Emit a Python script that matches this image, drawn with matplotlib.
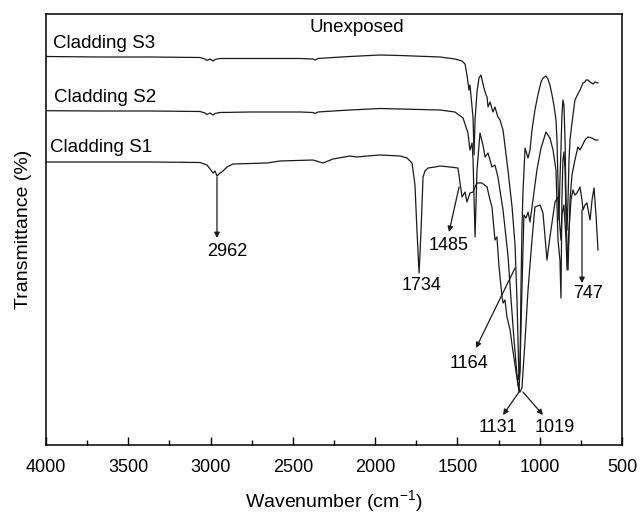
import matplotlib
matplotlib.use("Agg")
import matplotlib.pyplot as plt
from matplotlib.ticker import MultipleLocator

plt.rcParams["font.family"] = ["Liberation Sans", "DejaVu Sans"]
plt.rcParams["mathtext.default"] = "regular"

# FTIR spectra, wavenumber (cm-1) and transmittance (arbitrary offset units)
s3_wn = [4000, 3672, 3368, 3064, 3034, 3022, 3003, 2985, 2973, 2943, 2760, 2457, 2378, 2365,
         2347, 2256, 2153, 1970, 1849, 1606, 1515, 1472, 1454, 1442, 1430, 1424, 1418, 1405,
         1399, 1393, 1381, 1369, 1357, 1339, 1326, 1320, 1314, 1302, 1284, 1272, 1254, 1241,
         1223, 1193, 1168, 1150, 1138, 1126, 1120, 1114, 1108, 1102, 1089, 1071, 1059, 1047,
         1029, 1011, 992, 980, 962, 950, 938, 925, 914, 901, 895, 889, 883, 877, 871, 865, 859,
         853, 846, 840, 834, 828, 822, 816, 804, 786, 774, 755, 737, 725, 719, 707, 694, 676,
         664, 646]
s3_t = [388.5, 388, 388, 387.5, 386, 384.5, 386, 384, 385.5, 386.5, 386.5, 386.5, 386, 385,
        386.5, 387.5, 388.5, 390, 389.5, 388, 386, 384, 381, 370, 355, 360, 350, 327,
        290, 325, 353, 367, 370, 357, 350, 348, 338, 343, 333, 338, 328, 325,
        315, 275, 238, 200, 145, 65, 75, 155, 215, 252, 297, 287, 295, 315,
        335, 350, 363, 367, 369, 366, 360, 350, 340, 325, 305, 265, 225, 265, 295, 330, 345,
        340, 305, 245, 215, 245, 285, 305, 322, 345, 349, 355, 362, 363, 365, 365, 363, 361,
        363, 362]

s2_wn = [4000, 3672, 3368, 3064, 3034, 3022, 3003, 2985, 2973, 2943, 2760, 2457, 2378, 2365,
         2347, 2256, 2153, 1970, 1849, 1606, 1515, 1466, 1436, 1424, 1411, 1405, 1393, 1381,
         1363, 1345, 1332, 1314, 1290, 1272, 1254, 1223, 1193, 1174, 1156, 1138, 1126, 1120,
         1108, 1096, 1083, 1071, 1059, 1041, 1017, 992, 962, 938, 919, 901, 889, 877, 871,
         865, 859, 853, 846, 840, 828, 816, 804, 786, 768, 755, 725, 707, 682, 664, 646]
s2_t = [334.3, 334, 334, 333.5, 332, 330.5, 332, 330, 331.5, 332.5, 333, 333, 332.5, 331.5,
        333, 334, 335, 336.5, 336, 335, 333, 327, 312, 295, 302, 285, 208, 275,
        312, 300, 288, 292, 278, 280, 268, 235, 190, 145, 105, 70, 53, 75,
        155, 230, 227, 233, 223, 245, 275, 297, 313, 307, 295, 275, 205, 185, 147,
        245, 285, 293, 275, 225, 175, 245, 270, 285, 298, 295, 305, 308, 307, 305, 305]

s1_wn = [4000, 3672, 3368, 3064, 3022, 3003, 2985, 2973, 2961, 2943, 2931, 2900, 2864, 2657,
         2578, 2378, 2317, 2256, 2153, 2110, 2049, 1970, 1849, 1806, 1776, 1758, 1746, 1733,
         1721, 1709, 1697, 1679, 1636, 1606, 1545, 1497, 1484, 1472, 1454, 1442, 1424, 1405,
         1393, 1381, 1351, 1320, 1302, 1290, 1272, 1260, 1248, 1229, 1223, 1211, 1199, 1180,
         1168, 1150, 1132, 1120, 1108, 1089, 1071, 1047, 1029, 998, 980, 956, 938, 907, 889,
         883, 871, 865, 853, 840, 834, 822, 810, 798, 786, 774, 755, 743, 737, 725, 713, 700,
         694, 682, 670, 658, 646]
s1_t = [283, 283, 283, 282.5, 280, 276, 272, 274, 269, 272, 273, 278, 281, 282,
        284, 285, 282, 286, 289, 288, 289, 290, 289, 287, 282, 260, 215, 172,
        215, 268, 274, 277, 278, 279, 278, 277, 262, 248, 253, 243, 252, 253,
        258, 262, 262, 258, 245, 238, 205, 208, 180, 148, 142, 145, 128, 115,
        100, 80, 60, 53, 57, 105, 155, 205, 238, 240, 232, 185, 208, 243, 248,
        230, 205, 230, 240, 205, 175, 215, 245, 255, 250, 252, 258, 245, 235, 240, 242, 230,
        225, 245, 257, 230, 195]

trace_labels = ["Cladding S3", "Cladding S2", "Cladding S1"]
label_pos = [(3957, 401.5), (3951, 348), (3976, 298)]

# peak annotations: text, arrow tail (on spectrum), arrow head, label position
peak_text = ["2962", "1485", "1164", "1131", "1019", "747"]
peak_tail = [(2961, 268), (1490, 258), (1150, 177), (1126, 53), (1102, 53), (743, 235)]
peak_head = [(2961, 207), (1551, 213), (1387, 97), (1223, 30), (980, 30), (743, 162)]
peak_label = [(2896, 193), (1551, 200), (1430, 82), (1254, 18), (907, 18), (707, 152)]

fig = plt.figure(figsize=(6.4, 5.13), dpi=100)
ax = fig.add_axes([46 / 640, 1 - 445 / 513, 576 / 640, 431 / 513])

for wn, t in [(s3_wn, s3_t), (s2_wn, s2_t), (s1_wn, s1_t)]:
    ax.plot(wn, t, color="#1a1a1a", lw=0.9)

for text, (x, y) in zip(trace_labels, label_pos):
    ax.text(x, y, text, ha="left", va="center", fontsize=13.5)

ax.text(2110, 417, "Unexposed", ha="center", va="center", fontsize=13.5)
ax.text(1715, 160, "1734", ha="center", va="center", fontsize=13)

for text, tail, head, pos in zip(peak_text, peak_tail, peak_head, peak_label):
    ax.annotate("", xy=head, xytext=tail,
                arrowprops={"arrowstyle": "-|>", "lw": 0.9, "color": "#1a1a1a",
                            "mutation_scale": 8, "shrinkA": 0, "shrinkB": 0})
    ax.text(pos[0], pos[1], text, ha="center", va="center", fontsize=13)

ax.set_xlim(4000, 500)
ax.set_ylim(0, 431)
ax.xaxis.set_major_locator(MultipleLocator(500))
ax.xaxis.set_minor_locator(MultipleLocator(250))
ax.set_yticks([])
ax.tick_params(axis="x", which="major", direction="in", length=6, width=1, labelsize=13, pad=10)
ax.tick_params(axis="x", which="minor", direction="in", length=3.5, width=1)
for sp in ax.spines.values():
    sp.set_linewidth(1.1)

ax.set_xlabel("Wavenumber (cm$^{-1}$)", fontsize=14, labelpad=9)
ax.set_ylabel("Transmittance (%)", fontsize=14, labelpad=10)

fig.savefig("out.png", dpi=100)
